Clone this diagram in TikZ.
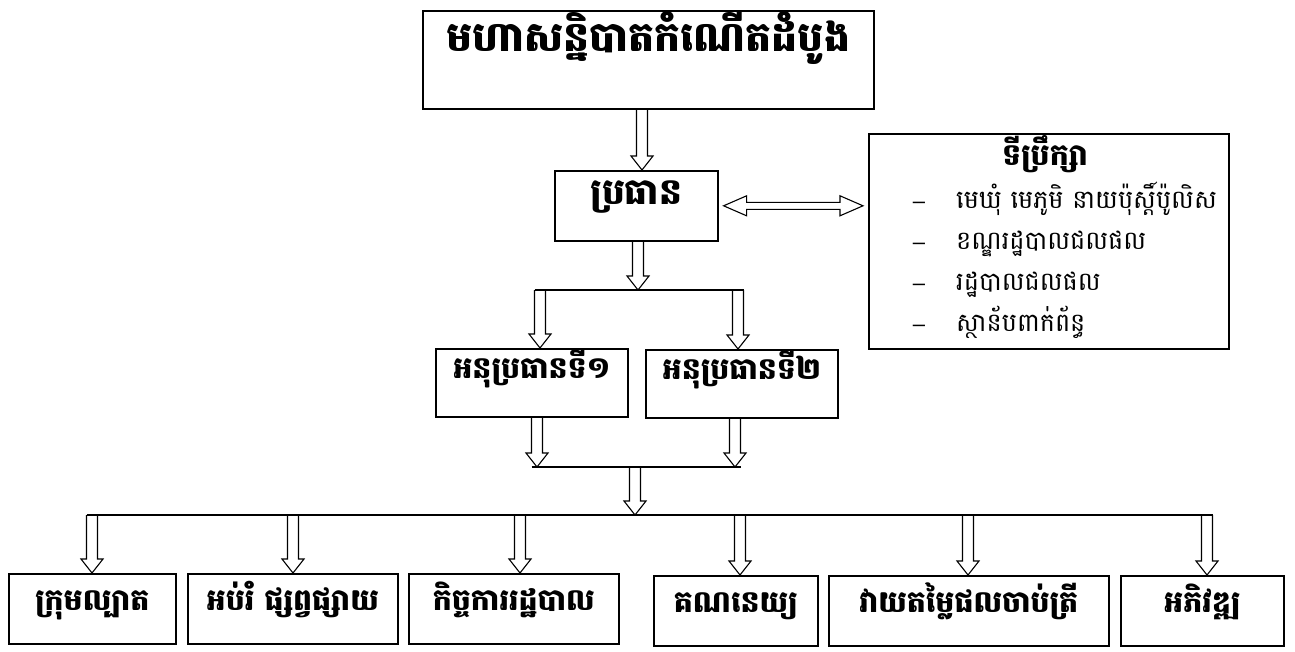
\documentclass[tikz,border=0pt]{standalone}
\usepackage{fontspec}
\newfontfamily\khmer[Script=Khmer]{Battambang}
\newfontfamily\dashfont{Liberation Sans}
\usetikzlibrary{calc}
\newcommand\vblockarrow[2]{%
  \path (#1) coordinate (va) (#2) coordinate (vbz);
  \path (va |- vbz) coordinate (vb);
  \draw[arrowline] ($(va)+(-5.5,0)$) -- ($(vb)+(-5.5,-14)$) -- ($(vb)+(-11,-14)$) -- (vb)
     -- ($(vb)+(11,-14)$) -- ($(vb)+(5.5,-14)$) -- ($(va)+(5.5,0)$);}
\newcommand\hdblarrow[2]{%
  \path (#1) coordinate (ha) (#2) coordinate (hbz);
  \path (hbz |- ha) coordinate (hb);
  \draw[arrowline] (ha) -- ++(23,-10) -- ++(0,6.5) -- ($(hb)+(-23,-3.5)$) -- ++(0,-6.5) -- (hb)
     -- ++(-23,10) -- ++(0,-6.5) -- ($(ha)+(23,3.5)$) -- ++(0,6.5) -- cycle;}
\begin{document}
\begin{tikzpicture}[x=1pt,y=-1pt,
  arrowline/.style={line width=1.1pt, line join=miter},
  boxline/.style={draw, line width=1.6pt, inner sep=0pt},
  bigbox/.style={boxline, anchor=north west, font={\khmer\bfseries\fontsize{41}{45}\selectfont}},
  presbox/.style={boxline, anchor=north west, font={\khmer\bfseries\fontsize{36}{40}\selectfont}},
  midbox/.style={boxline, anchor=north west, font={\khmer\bfseries\fontsize{30}{34}\selectfont}},
  lowbox/.style={boxline, anchor=north west, font={\khmer\bfseries\fontsize{30}{34}\selectfont}, text height=37pt, text depth=33pt},
  advtitle/.style={anchor=base, inner sep=0pt, font={\khmer\bfseries\fontsize{30}{34}\selectfont}},
  advitem/.style={anchor=base west, inner sep=0pt, font={\khmer\fontsize{25.5}{29}\selectfont}},
  advdash/.style={anchor=base, inner sep=0pt, font={\dashfont\fontsize{22}{26}\selectfont}}]
\useasboundingbox (0,0) rectangle (1295,651);
\fill[white] (0,0) rectangle (1295,651);

% boxes
\node[bigbox, minimum width=451pt, text height=41pt, text depth=57pt] (top) at (422,10) {មហាសន្និបាតកំណើតដំបូង};
\node[presbox, minimum width=163pt, text height=34pt, text depth=36pt] (pres) at (554,170) {ប្រធាន};
\node[boxline, anchor=north west, minimum width=360pt, minimum height=215pt] (adv) at (868,133) {};
\node[midbox, minimum width=192pt, text height=30pt, text depth=38pt] (v1) at (435,348) {អនុប្រធានទី១};
\node[midbox, minimum width=192pt, text height=30pt, text depth=38pt] (v2) at (645,349) {អនុប្រធានទី២};

\node[lowbox, minimum width=167pt] (b1) at (8,573) {ក្រុមល្បាត};
\node[lowbox, minimum width=210pt] (b2) at (187,573) {អប់រំ ផ្សព្វផ្សាយ};
\node[lowbox, minimum width=210pt] (b3) at (408,573) {កិច្ចការរដ្ឋបាល};
\node[lowbox, minimum width=164pt] (b4) at (653,575) {គណនេយ្យ};
\node[lowbox, minimum width=280pt] (b5) at (828,575) {វាយតម្លៃផលចាប់ត្រី};
\node[lowbox, minimum width=163pt] (b6) at (1120,575) {អភិវឌ្ឍ};

% advisor contents
\node[advtitle] (advt) at (1045,165) {ទីប្រឹក្សា};
\node[advdash] (d1) at (919,208) {\textendash};
\node[advdash] (d2) at (919,249) {\textendash};
\node[advdash] (d3) at (919,290) {\textendash};
\node[advdash] (d4) at (919,331) {\textendash};
\node[advitem] (a1) at (956,208) {មេឃុំ មេភូមិ នាយប៉ុស្តិ៍ប៉ូលិស};
\node[advitem] (a2) at (956,249) {ខណ្ឌរដ្ឋបាលជលផល};
\node[advitem] (a3) at (956,290) {រដ្ឋបាលជលផល};
\node[advitem] (a4) at (956,331) {ស្ថាន័បពាក់ព័ន្ធ};

% junction coordinates
\coordinate (sc) at (638,290);
\coordinate (sl) at (540,290);
\coordinate (sr) at (738,290);
\coordinate (jl) at (537,467);
\coordinate (jr) at (735,467);
\coordinate (jc) at (635,467);
\coordinate (bc) at (635,515);
\coordinate (x1) at (92,515);
\coordinate (x2) at (293,515);
\coordinate (x3) at (520,515);
\coordinate (x4) at (740,515);
\coordinate (x5) at (968,515);
\coordinate (x6) at (1207,515);

% connectors
\vblockarrow{642,0 |- top.south}{pres.north}
\hdblarrow{$(pres.east)+(5,0)$ |- 0,202}{$(adv.west)+(-5,0)$}
\vblockarrow{sc |- pres.south}{sc}
\draw[line width=1.3pt] ($(sl)+(-5.5,0)$) -- ($(sr)+(5.5,0)$);
\vblockarrow{sl}{v1.north}
\vblockarrow{sr}{v2.north}
\vblockarrow{jl |- v1.south}{jl}
\vblockarrow{jr |- v2.south}{jr}
\draw[line width=1.3pt] ($(jl)+(-5.5,0)$) -- ($(jr)+(5.5,0)$);
\vblockarrow{jc}{bc}
\draw[line width=1.3pt] ($(x1)+(-5.5,0)$) -- ($(x6)+(5.5,0)$);
\vblockarrow{x1}{b1.north}
\vblockarrow{x2}{b2.north}
\vblockarrow{x3}{b3.north}
\vblockarrow{x4}{b4.north}
\vblockarrow{x5}{b5.north}
\vblockarrow{x6}{b6.north}
\end{tikzpicture}
\end{document}
